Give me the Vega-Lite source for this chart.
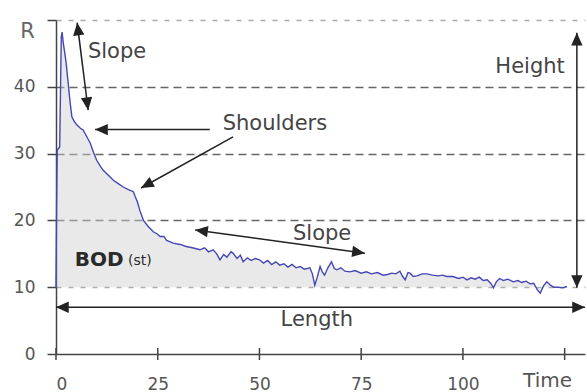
{
  "$schema": "https://vega.github.io/schema/vega-lite/v6.json",
  "width": 529,
  "height": 334,
  "autosize": "none",
  "padding": {"left": 56, "top": 20, "right": 2, "bottom": 38},
  "background": "white",
  "config": {"view": {"stroke": null}, "font": "DejaVu Sans"},
  "datasets": {
    "curve": [
      {"t": 0, "R": 10}, {"t": 0.15, "R": 22}, {"t": 0.3, "R": 30.5}, {"t": 0.9, "R": 31},
      {"t": 1.3, "R": 47.5}, {"t": 1.5, "R": 48.2}, {"t": 1.8, "R": 46.5}, {"t": 2.1, "R": 45.3},
      {"t": 2.5, "R": 43.5}, {"t": 3.0, "R": 40.5}, {"t": 3.5, "R": 37.5}, {"t": 3.9, "R": 35.5},
      {"t": 4.5, "R": 34.8}, {"t": 5.1, "R": 34.3}, {"t": 6.0, "R": 33.8}, {"t": 6.7, "R": 33.5},
      {"t": 7.5, "R": 32.6}, {"t": 8.4, "R": 31.6}, {"t": 9.2, "R": 30.2}, {"t": 10, "R": 29},
      {"t": 11, "R": 28}, {"t": 11.6, "R": 27.5}, {"t": 12.8, "R": 26.8}, {"t": 14.1, "R": 26},
      {"t": 15.3, "R": 25.5}, {"t": 16.5, "R": 25}, {"t": 17.8, "R": 24.6}, {"t": 19, "R": 24.3},
      {"t": 19.5, "R": 23.5}, {"t": 20, "R": 22.8}, {"t": 20.6, "R": 21.5}, {"t": 21.5, "R": 20.0},
      {"t": 22.5, "R": 19.2}, {"t": 23.9, "R": 18.3}, {"t": 24.8, "R": 18.0}, {"t": 25.6, "R": 17.6},
      {"t": 26.5, "R": 17.6}, {"t": 27.2, "R": 17.0}, {"t": 28.8, "R": 16.6}, {"t": 30.5, "R": 16.4},
      {"t": 32, "R": 16.1}, {"t": 33.5, "R": 15.9}, {"t": 35.4, "R": 15.6}, {"t": 36.5, "R": 15.9},
      {"t": 37.5, "R": 15.3}, {"t": 38.6, "R": 15.6}, {"t": 39.5, "R": 15.0}, {"t": 40.3, "R": 14.1},
      {"t": 41.2, "R": 14.9}, {"t": 42, "R": 14.5}, {"t": 43, "R": 15.3}, {"t": 43.5, "R": 15.1},
      {"t": 44.5, "R": 14.3}, {"t": 45.3, "R": 14.8}, {"t": 46, "R": 13.8}, {"t": 47, "R": 14.4},
      {"t": 48, "R": 14.0}, {"t": 49, "R": 14.3}, {"t": 50, "R": 14.1}, {"t": 51, "R": 13.6},
      {"t": 52, "R": 14.0}, {"t": 53, "R": 13.4}, {"t": 54, "R": 13.8}, {"t": 55, "R": 13.3},
      {"t": 56, "R": 13.5}, {"t": 57, "R": 13.0}, {"t": 58, "R": 13.4}, {"t": 59, "R": 12.9},
      {"t": 60, "R": 13.1}, {"t": 61, "R": 12.7}, {"t": 62.4, "R": 12.9}, {"t": 63, "R": 12.0},
      {"t": 63.6, "R": 10.3}, {"t": 64.2, "R": 11.5}, {"t": 64.9, "R": 13.1}, {"t": 65.5, "R": 12.2},
      {"t": 66, "R": 11.8}, {"t": 66.8, "R": 12.9}, {"t": 67.7, "R": 13.8}, {"t": 68.4, "R": 12.8},
      {"t": 69, "R": 12.6}, {"t": 70, "R": 12.9}, {"t": 71, "R": 12.4}, {"t": 72.2, "R": 12.3},
      {"t": 73.5, "R": 12.5}, {"t": 75, "R": 12.1}, {"t": 76.3, "R": 12.3}, {"t": 77.5, "R": 12.0},
      {"t": 79, "R": 12.2}, {"t": 80.4, "R": 11.8}, {"t": 81.5, "R": 11.9}, {"t": 82.5, "R": 12.1},
      {"t": 83.5, "R": 12.0}, {"t": 84.5, "R": 12.4}, {"t": 85.2, "R": 11.6}, {"t": 85.8, "R": 11.1},
      {"t": 86.5, "R": 12.2}, {"t": 87, "R": 12.1}, {"t": 87.8, "R": 11.6}, {"t": 88.7, "R": 11.7},
      {"t": 90, "R": 12.0}, {"t": 91.2, "R": 12.0}, {"t": 92.5, "R": 11.8}, {"t": 94, "R": 11.7},
      {"t": 95, "R": 11.8}, {"t": 96, "R": 11.6}, {"t": 97.5, "R": 11.6}, {"t": 99, "R": 11.3},
      {"t": 100, "R": 11.5}, {"t": 101, "R": 11.1}, {"t": 102, "R": 11.4}, {"t": 103, "R": 11.2},
      {"t": 104, "R": 11.5}, {"t": 105, "R": 11.0}, {"t": 106, "R": 11.1}, {"t": 106.8, "R": 10.6},
      {"t": 107.5, "R": 9.9}, {"t": 108.2, "R": 10.8}, {"t": 109, "R": 11.3}, {"t": 110, "R": 11.0},
      {"t": 111, "R": 11.2}, {"t": 112.4, "R": 10.8}, {"t": 113.5, "R": 11.0}, {"t": 114.5, "R": 10.7},
      {"t": 115.5, "R": 10.9}, {"t": 116.5, "R": 10.5}, {"t": 117.4, "R": 10.6}, {"t": 118.3, "R": 9.6},
      {"t": 119, "R": 9.1}, {"t": 119.8, "R": 10.2}, {"t": 120.6, "R": 10.8}, {"t": 121.5, "R": 10.3},
      {"t": 122.3, "R": 10.0}, {"t": 123.5, "R": 10.0}, {"t": 124.5, "R": 9.9}, {"t": 125.6, "R": 10.1}
    ],
    "arrows": [
      {"t": 5.2, "R": 49.6, "t2": 7.9, "R2": 36.5},
      {"t": 9.6, "R": 33.6, "t2": 37.8, "R2": 33.6},
      {"t": 43.5, "R": 32.5, "t2": 20.9, "R2": 24.85},
      {"t": 34.2, "R": 18.56, "t2": 75.9, "R2": 15.1},
      {"t": 0, "R": 7.0, "t2": 130, "R2": 7.0},
      {"t": 128, "R": 48.1, "t2": 128, "R2": 9.9}
    ],
    "ticks": [{"t": 0}, {"t": 25}, {"t": 50}, {"t": 75}, {"t": 100}, {"t": 125}]
  },
  "layer": [
    {
      "data": {"name": "curve"},
      "mark": {"type": "area", "color": "#cfcfcf", "opacity": 0.45},
      "encoding": {
        "x": {"field": "t", "type": "quantitative", "scale": {"domain": [0, 130], "nice": false},
          "axis": {"values": [0, 25, 50, 75, 100, 125], "labelExpr": "datum.value == 125 ? '' : datum.label",
            "ticks": false, "grid": false, "domainColor": "#444", "domainWidth": 1.5,
            "labelFontSize": 17, "labelColor": "#555", "labelPadding": 22, "labelBaseline": "top",
            "title": "Time", "titleFontSize": 20, "titleFontWeight": "normal", "titleColor": "#555",
            "titleX": 491, "titleY": 26, "titleAlign": "center", "titleBaseline": "middle"}},
        "y": {"field": "R", "type": "quantitative", "scale": {"domain": [0, 50], "nice": false},
          "axis": {"values": [0, 10, 20, 30, 40, 50], "labelExpr": "datum.value == 50 ? '' : datum.label",
            "tickSize": 9, "tickColor": "#444", "tickWidth": 1.5, "domainColor": "#444", "domainWidth": 1.5,
            "labelFontSize": 17, "labelColor": "#555", "labelPadding": 12,
            "grid": true, "gridWidth": 1.5,
            "gridOpacity": {"condition": {"test": "datum.value === 0", "value": 0}, "value": 1},
            "gridColor": {"condition": {"test": "datum.value === 10 || datum.value === 50", "value": "#aaaaaa"}, "value": "#666666"},
            "gridDash": {"condition": {"test": "datum.value === 10 || datum.value === 50", "value": [5, 7]}, "value": [8, 5]},
            "title": "R", "titleFontSize": 21, "titleFontWeight": "normal", "titleColor": "#666",
            "titleAngle": 0, "titleX": -29, "titleY": 11, "titleAlign": "center", "titleBaseline": "middle"}},
        "y2": {"datum": 10}
      }
    },
    {
      "data": {"name": "curve"},
      "mark": {"type": "line", "color": "#4646b6", "strokeWidth": 1.4},
      "encoding": {"x": {"field": "t", "type": "quantitative"}, "y": {"field": "R", "type": "quantitative"}}
    },
    {
      "data": {"name": "ticks"},
      "mark": {"type": "tick", "orient": "vertical", "size": 12, "thickness": 1.5, "color": "#444", "opacity": 1},
      "encoding": {"x": {"field": "t", "type": "quantitative"}, "y": {"datum": 0}}
    },
    {
      "data": {"name": "arrows"},
      "mark": {"type": "rule", "color": "#222", "strokeWidth": 1.5},
      "encoding": {
        "x": {"field": "t", "type": "quantitative"}, "y": {"field": "R", "type": "quantitative"},
        "x2": {"field": "t2"}, "y2": {"field": "R2"}
      }
    },
    {
      "data": {"values": [{"t": 128, "R": 48.1}]},
      "mark": {"type": "point", "shape": "M0,0L0.8,1.8L-0.8,1.8Z", "size": 200, "filled": true, "color": "#222", "opacity": 1, "angle": 0},
      "encoding": {"x": {"field": "t", "type": "quantitative"}, "y": {"field": "R", "type": "quantitative"}}
    },
    {
      "data": {"values": [{"t": 128, "R": 9.9}]},
      "mark": {"type": "point", "shape": "M0,0L0.8,1.8L-0.8,1.8Z", "size": 200, "filled": true, "color": "#222", "opacity": 1, "angle": 180},
      "encoding": {"x": {"field": "t", "type": "quantitative"}, "y": {"field": "R", "type": "quantitative"}}
    },
    {
      "data": {"values": [{"t": 9.6, "R": 33.6}, {"t": 0, "R": 7.0}]},
      "mark": {"type": "point", "shape": "M0,0L0.8,1.8L-0.8,1.8Z", "size": 200, "filled": true, "color": "#222", "opacity": 1, "angle": -90},
      "encoding": {"x": {"field": "t", "type": "quantitative"}, "y": {"field": "R", "type": "quantitative"}}
    },
    {
      "data": {"values": [{"t": 130, "R": 7.0}]},
      "mark": {"type": "point", "shape": "M0,0L0.8,1.8L-0.8,1.8Z", "size": 200, "filled": true, "color": "#222", "opacity": 1, "angle": 90},
      "encoding": {"x": {"field": "t", "type": "quantitative"}, "y": {"field": "R", "type": "quantitative"}}
    },
    {
      "data": {"values": [{"t": 5.2, "R": 49.6}]},
      "mark": {"type": "point", "shape": "M0,0L0.8,1.8L-0.8,1.8Z", "size": 200, "filled": true, "color": "#222", "opacity": 1, "angle": -7.2},
      "encoding": {"x": {"field": "t", "type": "quantitative"}, "y": {"field": "R", "type": "quantitative"}}
    },
    {
      "data": {"values": [{"t": 7.9, "R": 36.5}]},
      "mark": {"type": "point", "shape": "M0,0L0.8,1.8L-0.8,1.8Z", "size": 200, "filled": true, "color": "#222", "opacity": 1, "angle": 172.8},
      "encoding": {"x": {"field": "t", "type": "quantitative"}, "y": {"field": "R", "type": "quantitative"}}
    },
    {
      "data": {"values": [{"t": 20.9, "R": 24.85}]},
      "mark": {"type": "point", "shape": "M0,0L0.8,1.8L-0.8,1.8Z", "size": 200, "filled": true, "color": "#222", "opacity": 1, "angle": -119},
      "encoding": {"x": {"field": "t", "type": "quantitative"}, "y": {"field": "R", "type": "quantitative"}}
    },
    {
      "data": {"values": [{"t": 34.2, "R": 18.56}]},
      "mark": {"type": "point", "shape": "M0,0L0.8,1.8L-0.8,1.8Z", "size": 200, "filled": true, "color": "#222", "opacity": 1, "angle": -82.3},
      "encoding": {"x": {"field": "t", "type": "quantitative"}, "y": {"field": "R", "type": "quantitative"}}
    },
    {
      "data": {"values": [{"t": 75.9, "R": 15.1}]},
      "mark": {"type": "point", "shape": "M0,0L0.8,1.8L-0.8,1.8Z", "size": 200, "filled": true, "color": "#222", "opacity": 1, "angle": 97.7},
      "encoding": {"x": {"field": "t", "type": "quantitative"}, "y": {"field": "R", "type": "quantitative"}}
    },
    {
      "data": {"values": [
        {"t": 15.0, "R": 45.2, "label": "Slope"},
        {"t": 53.8, "R": 34.4, "label": "Shoulders"},
        {"t": 116.5, "R": 43.0, "label": "Height"},
        {"t": 65.4, "R": 18.0, "label": "Slope"},
        {"t": 64.1, "R": 5.1, "label": "Length"}
      ]},
      "mark": {"type": "text", "fontSize": 21, "color": "#444", "align": "center", "baseline": "middle"},
      "encoding": {"x": {"field": "t", "type": "quantitative"}, "y": {"field": "R", "type": "quantitative"}, "text": {"field": "label"}}
    },
    {
      "data": {"values": [{"t": 4.6, "R": 14.0, "label": "BOD"}]},
      "mark": {"type": "text", "fontSize": 20, "fontWeight": "bold", "color": "#2a2a2a", "align": "left", "baseline": "middle"},
      "encoding": {"x": {"field": "t", "type": "quantitative"}, "y": {"field": "R", "type": "quantitative"}, "text": {"field": "label"}}
    },
    {
      "data": {"values": [{"t": 17.7, "R": 13.9, "label": "(st)"}]},
      "mark": {"type": "text", "fontSize": 14, "color": "#2a2a2a", "align": "left", "baseline": "middle"},
      "encoding": {"x": {"field": "t", "type": "quantitative"}, "y": {"field": "R", "type": "quantitative"}, "text": {"field": "label"}}
    }
  ]
}
